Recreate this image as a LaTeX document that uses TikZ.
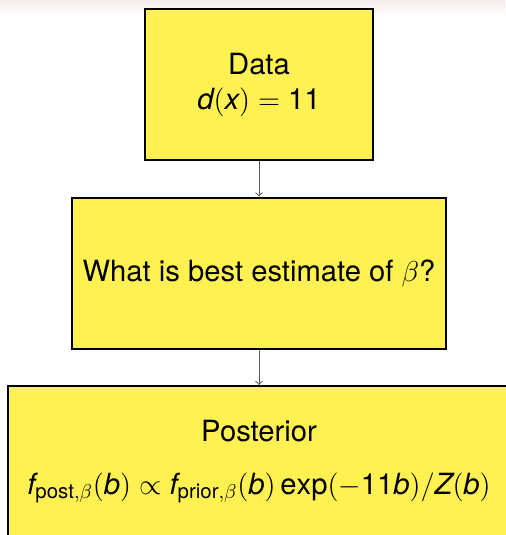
\documentclass[tikz,border=0pt]{standalone}
\usepackage{amsmath}
\usepackage{fontspec}
\setmainfont{TeX Gyre Heros}
\definecolor{boxyellow}{RGB}{255,241,82}
\definecolor{headpink}{RGB}{243,236,234}

\begin{document}
\begin{tikzpicture}[x=0.5pt, y=-0.5pt,
    box/.style={draw=black, line width=1pt, fill=boxyellow, align=center, inner sep=0pt,
      minimum height=75.5pt, font=\fontsize{14.6}{17.5}\selectfont},
    link/.style={->, draw=gray!70!black, line width=0.5pt}]
  \useasboundingbox (0,0) rectangle (505,535);
  \shade[top color=headpink, bottom color=white] (0,0) rectangle (505,16);
  \node[box, minimum width=114pt] (data) at (259,84.5) {Data\\$\mathit{d}(\mathit{x}) = \mathrm{11}$};
  \node[box, minimum width=187pt] (question) at (259,273) {What is best estimate of $\beta$?};
  \node[box, minimum width=251pt] (posterior) at (259,461.5)
    {Posterior\\[9pt]$\mathit{f}_{\mathrm{post},\beta}(\mathit{b}) \propto \mathit{f}_{\mathrm{prior},\beta}(\mathit{b})\exp(-\mathrm{11}\mathit{b})/\mathit{Z}(\mathit{b})$};
  \draw[link] (data) -- (question);
  \draw[link] (question) -- (posterior);
\end{tikzpicture}
\end{document}
